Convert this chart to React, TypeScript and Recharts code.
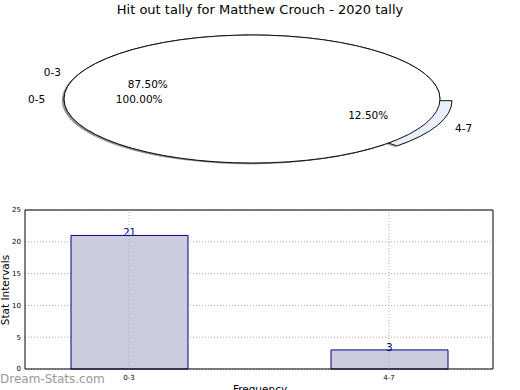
import {
  PieChart,
  Pie,
  Cell,
  BarChart,
  Bar,
  XAxis,
  YAxis,
  CartesianGrid,
  LabelList,
  ReferenceLine,
} from "recharts";

const title = "Hit out tally for Matthew Crouch - 2020 tally";
const categories = ["0-3", "4-7"];
const counts = [21, 3];
const outerCategories = ["0-5"];
const outerCounts = [24];
const yTicks = [0, 5, 10, 15, 20, 25];

const FONT = "'DejaVu Sans', sans-serif";
const RY_RATIO = 64 / 188;
const EXPLODED = "4-7";
const EXPLODE_PX = 13;
const RAD = Math.PI / 180;
const innerColors = ["#ffffff", "#eaf0fb"];

const pieData = categories.map((name, i) => ({ name, value: counts[i] }));
const outerPieData = outerCategories.map((name, i) => ({ name, value: outerCounts[i] }));
const barData = categories.map((name, i) => ({ x: i, name, count: counts[i] }));

function sectorPath(cx: number, cy: number, r: number, start: number, end: number) {
  const ry = r * RY_RATIO;
  const sweep = end - start;
  if (Math.abs(sweep) >= 359.99) {
    return `M ${cx - r} ${cy} A ${r} ${ry} 0 1 0 ${cx + r} ${cy} A ${r} ${ry} 0 1 0 ${cx - r} ${cy} Z`;
  }
  const x0 = cx + r * Math.cos(start * RAD);
  const y0 = cy - ry * Math.sin(start * RAD);
  const x1 = cx + r * Math.cos(end * RAD);
  const y1 = cy - ry * Math.sin(end * RAD);
  const large = Math.abs(sweep) > 180 ? 1 : 0;
  const flag = sweep > 0 ? 0 : 1;
  return `M ${cx} ${cy} L ${x0} ${y0} A ${r} ${ry} 0 ${large} ${flag} ${x1} ${y1} Z`;
}

function explodeOffset(name: string, mid: number) {
  const d = name === EXPLODED ? EXPLODE_PX : 0;
  return [d * Math.cos(mid * RAD), -d * RY_RATIO * Math.sin(mid * RAD)];
}

function EllipseSector(props: any) {
  const { cx, cy, outerRadius, startAngle, endAngle, fill } = props;
  const name = props.name ?? props.payload?.name;
  const [ox, oy] = explodeOffset(name, (startAngle + endAngle) / 2);
  const d = sectorPath(cx + ox, cy + oy, outerRadius, startAngle, endAngle);
  return (
    <g>
      <path d={d} transform="translate(-2.2,1.2)" fill="#666" fillOpacity={0.45} stroke="none" />
      <path d={d} fill={fill} stroke="#111" strokeWidth={1} />
    </g>
  );
}

function renderPieLabel(p: any) {
  const { cx, cy, midAngle, outerRadius, percent, name } = p;
  const [ox, oy] = explodeOffset(name, midAngle);
  const cos = Math.cos(midAngle * RAD);
  const sin = Math.sin(midAngle * RAD);
  const ry = outerRadius * RY_RATIO;
  return (
    <g fontFamily={FONT} fontSize={10.5} fill="#000">
      <text
        x={cx + ox + 1.1 * outerRadius * cos}
        y={cy + oy - 1.1 * ry * sin}
        textAnchor={cos >= 0 ? "start" : "end"}
        dominantBaseline="central"
      >
        {name}
      </text>
      <text
        x={cx + ox + 0.6 * outerRadius * cos}
        y={cy + oy - 0.6 * ry * sin}
        textAnchor="middle"
        dominantBaseline="central"
      >
        {(percent * 100).toFixed(2)}%
      </text>
    </g>
  );
}

export default function App() {
  return (
    <div
      style={{
        position: "absolute",
        left: 0,
        top: 0,
        width: 520,
        height: 390,
        overflow: "hidden",
        background: "#fff",
        fontFamily: FONT,
      }}
    >
      <div style={{ position: "absolute", top: 2, left: 0, width: 520, textAlign: "center", fontSize: 13 }}>
        {title}
      </div>

      <div style={{ position: "absolute", left: 0, top: 0 }}>
        <PieChart width={520} height={190} margin={{ top: 0, right: 0, bottom: 0, left: 0 }}>
          <Pie
            data={pieData}
            dataKey="value"
            nameKey="name"
            cx={252}
            cy={99}
            outerRadius={188}
            startAngle={0}
            endAngle={360}
            labelLine={false}
            label={renderPieLabel}
            shape={EllipseSector}
            inactiveShape={EllipseSector}
            activeShape={EllipseSector}
            isAnimationActive={false}
          >
            {pieData.map((e, i) => (
              <Cell key={e.name} fill={innerColors[i]} />
            ))}
          </Pie>
          <Pie
            data={outerPieData}
            dataKey="value"
            nameKey="name"
            cx={252}
            cy={99}
            outerRadius={188}
            startAngle={0}
            endAngle={360}
            labelLine={false}
            label={renderPieLabel}
            shape={EllipseSector}
            inactiveShape={EllipseSector}
            activeShape={EllipseSector}
            fill="#ffffff"
            isAnimationActive={false}
          />
        </PieChart>
      </div>

      <div style={{ position: "absolute", left: 0, top: 0 }}>
        <BarChart width={520} height={390} data={barData} margin={{ top: 209, right: 26, bottom: 20, left: 24 }}>
          <CartesianGrid vertical={false} strokeDasharray="1 2" stroke="#aaaaaa" />
          <Bar dataKey="count" barSize={117} fill="#ccccdf" stroke="#000080" strokeWidth={1} isAnimationActive={false}>
            <LabelList dataKey="count" position="top" offset={-1} fill="#000080" fontSize={10} fontFamily={FONT} />
          </Bar>
          <XAxis
            dataKey="x"
            type="number"
            domain={[-0.4, 1.4]}
            ticks={[0, 1]}
            tickFormatter={(i: number) => categories[i] ?? ""}
            height={1}
            tickSize={0}
            tickMargin={6}
            tick={{ fontSize: 7, fill: "#000", fontFamily: FONT }}
            axisLine={{ stroke: "#000" }}
          />
          <XAxis
            xAxisId="top"
            orientation="top"
            dataKey="x"
            type="number"
            domain={[-0.4, 1.4]}
            height={1}
            tick={false}
            tickLine={false}
            axisLine={{ stroke: "#000" }}
          />
          <YAxis
            domain={[0, 25]}
            ticks={yTicks}
            width={1}
            tickSize={0}
            tickMargin={4}
            tick={{ fontSize: 7, fill: "#000", fontFamily: FONT }}
            axisLine={{ stroke: "#000" }}
          />
          <YAxis
            yAxisId="right"
            orientation="right"
            domain={[0, 25]}
            width={1}
            tick={false}
            tickLine={false}
            axisLine={{ stroke: "#000" }}
          />
          {[0, 1].map((x) => (
            <ReferenceLine key={x} x={x} stroke="#aaaaaa" strokeDasharray="1 2" />
          ))}
        </BarChart>
      </div>

      <div
        style={{
          position: "absolute",
          left: 5,
          top: 290,
          fontSize: 10.5,
          transform: "translate(-50%, -50%) rotate(-90deg)",
          whiteSpace: "nowrap",
        }}
      >
        Stat Intervals
      </div>
      <div style={{ position: "absolute", top: 383, left: 0, width: 520, textAlign: "center", fontSize: 10.5 }}>
        Frequency
      </div>
      <div
        style={{
          position: "absolute",
          left: 0,
          top: 372,
          fontSize: 12,
          color: "#999999",
        }}
      >
        Dream-Stats.com
      </div>
    </div>
  );
}
